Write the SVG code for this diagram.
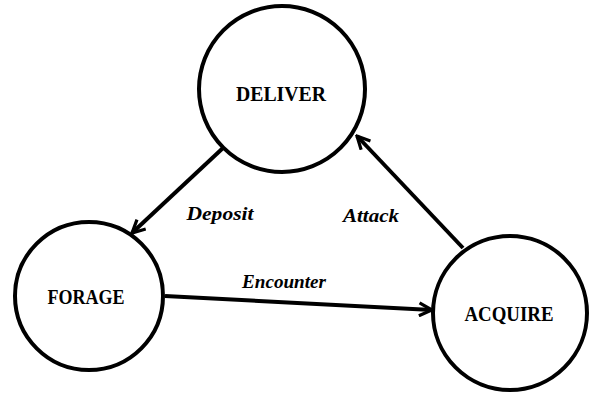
<svg xmlns="http://www.w3.org/2000/svg" width="589" height="394" viewBox="0 0 589 394">
<style>
.node{fill:#fff;stroke:#000;stroke-width:4}
.ntext{font-family:"Liberation Serif","DejaVu Serif",serif;font-weight:bold;font-size:21px;fill:#000;text-anchor:middle}
.edge{fill:none;stroke:#000;stroke-width:4}
.etext{font-family:"Liberation Serif","DejaVu Serif",serif;font-weight:bold;font-style:italic;font-size:19px;fill:#000;text-anchor:middle}
</style>
<defs>
<marker id="arr" viewBox="0 0 10 10" refX="9" refY="5" markerWidth="4" markerHeight="4" orient="auto" markerUnits="strokeWidth">
<polyline points="1,1 9,5 1,9" fill="none" stroke="#000" stroke-width="2"/>
</marker>
</defs>
<g id="connectors">
<line class="edge" x1="223" y1="148" x2="132" y2="233" marker-end="url(#arr)"/>
<line class="edge" x1="463" y1="248" x2="357" y2="136" marker-end="url(#arr)"/>
<line class="edge" x1="165" y1="296" x2="432" y2="310" marker-end="url(#arr)"/>
<text class="etext" x="220" y="220" textLength="67" lengthAdjust="spacingAndGlyphs">Deposit</text>
<text class="etext" x="371" y="222" textLength="56" lengthAdjust="spacingAndGlyphs">Attack</text>
<text class="etext" x="284" y="288" textLength="84" lengthAdjust="spacingAndGlyphs">Encounter</text>
</g>
<g id="deliver">
<circle class="node" cx="282" cy="89" r="83"/>
<text class="ntext" x="281" y="101" textLength="90" lengthAdjust="spacingAndGlyphs">DELIVER</text>
</g>
<g id="forage">
<circle class="node" cx="89" cy="296" r="74"/>
<text class="ntext" x="86" y="304" textLength="77" lengthAdjust="spacingAndGlyphs">FORAGE</text>
</g>
<g id="acquire">
<circle class="node" cx="510" cy="313" r="77"/>
<text class="ntext" x="509" y="321" textLength="89" lengthAdjust="spacingAndGlyphs">ACQUIRE</text>
</g>
</svg>
